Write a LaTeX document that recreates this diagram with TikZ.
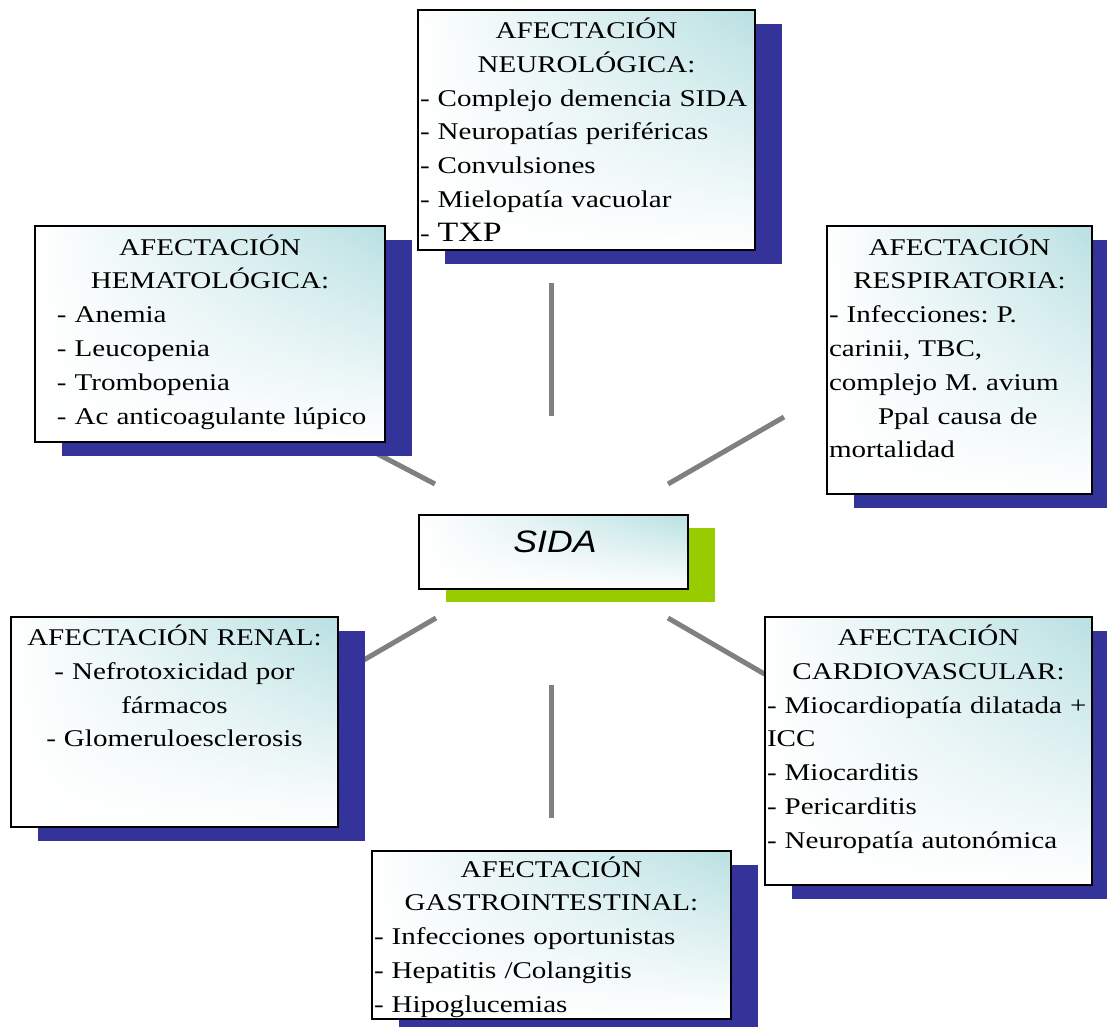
\documentclass[tikz,border=0pt]{standalone}
\usepackage{fontspec}
\setmainfont[FakeStretch=1.21]{Liberation Serif}
\newfontfamily\sidafont[FakeStretch=1.15]{Liberation Sans}
\usetikzlibrary{shadows,shadings}

\definecolor{tealtop}{RGB}{185,224,226}
\definecolor{shadowblue}{RGB}{51,51,153}
\definecolor{limegreen}{RGB}{153,204,0}
\definecolor{linkgray}{RGB}{128,128,128}

\tikzset{
  panel/.style={draw=black, line width=1.9pt, inner sep=0pt, outer sep=0pt,
    anchor=north west, upper right=tealtop, upper left=white,
    lower left=white, lower right=white},
  blueshadow/.style={drop shadow={shadow xshift=27pt, shadow yshift=-14pt,
    fill=shadowblue, opacity=1}},
  greenshadow/.style={drop shadow={shadow xshift=27pt, shadow yshift=-13pt,
    fill=limegreen, opacity=1}},
  paneltext/.style={anchor=base west, inner sep=0pt, outer sep=0pt,
    align=left, font=\fontsize{24}{33.8}\selectfont},
  link/.style={draw=linkgray, line width=5pt},
}

\begin{document}
\begin{tikzpicture}[x=1pt, y=-1pt]
\useasboundingbox (0,0) rectangle (1107,1026);
\clip (0,0) rectangle (1107,1026);

% spokes around the central box (drawn first, so they pass under the panels)
\coordinate (tA) at (551,283);  \coordinate (tB) at (551,416);
\coordinate (bA) at (551,685);  \coordinate (bB) at (551,818);
\coordinate (hA) at (435,484);  \coordinate (hB) at (370,450);
\coordinate (rA) at (668,484);  \coordinate (rB) at (784,417);
\coordinate (kA) at (436,618);  \coordinate (kB) at (350,668);
\coordinate (cA) at (668,618);  \coordinate (cB) at (780,683);
\draw[link] (tA) -- (tB);
\draw[link] (bA) -- (bB);
\draw[link] (hA) -- (hB);
\draw[link] (rA) -- (rB);
\draw[link] (kA) -- (kB);
\draw[link] (cA) -- (cB);

% panels
\node[panel, blueshadow, minimum width=337pt, minimum height=240pt] (neuro) at (418,10) {};
\node[panel, blueshadow, minimum width=350pt, minimum height=216pt] (hemato) at (35,226) {};
\node[panel, blueshadow, minimum width=265pt, minimum height=268pt] (resp) at (827,226) {};
\node[panel, greenshadow, minimum width=269pt, minimum height=74pt] (sida) at (419,515) {};
\node[panel, blueshadow, minimum width=327pt, minimum height=210pt] (renal) at (11,617) {};
\node[panel, blueshadow, minimum width=327pt, minimum height=268pt] (cardio) at (765,617) {};
\node[panel, blueshadow, minimum width=359pt, minimum height=168pt] (gastro) at (372,851) {};

% panel texts
\node[paneltext, text width=333pt] (neurot) at ([xshift=2pt, yshift=-28.5pt]neuro.north west)
  {{\centering AFECTACIÓN\\NEUROLÓGICA:\par}
   -~Complejo~demencia~SIDA\\
   -~Neuropatías~periféricas\\
   -~Convulsiones\\
   -~Mielopatía~vacuolar\\
   -~{\fontsize{28}{33.8}\selectfont TXP}};

\node[paneltext, text width=346pt] (hematot) at ([xshift=2pt, yshift=-29pt]hemato.north west)
  {{\centering AFECTACIÓN\\HEMATOLÓGICA:\par}
   {\leftskip=20pt -~Anemia\\
   -~Leucopenia\\
   -~Trombopenia\\
   -~Ac~anticoagulante~lúpico\par}};

\node[paneltext, text width=261pt] (respt) at ([xshift=2pt, yshift=-29pt]resp.north west)
  {{\centering AFECTACIÓN\\RESPIRATORIA:\par}
   -~Infecciones:~P.\\
   carinii,~TBC,\\
   complejo~M.~avium\\
   \hspace*{49pt}Ppal~causa~de\\
   mortalidad};

\node[anchor=base, inner sep=0pt, font=\sidafont\itshape\fontsize{31}{36}\selectfont]
  (sidat) at (555,552) {SIDA};

\node[paneltext, text width=323pt, align=center] (renalt) at ([xshift=2pt, yshift=-28.5pt]renal.north west)
  {AFECTACIÓN~RENAL:\\
   -~Nefrotoxicidad~por\\
   fármacos\\
   -~Glomeruloesclerosis};

\node[paneltext, text width=323pt] (cardiot) at ([xshift=2pt, yshift=-28.5pt]cardio.north west)
  {{\centering AFECTACIÓN\\CARDIOVASCULAR:\par}
   -~Miocardiopatía~dilatada~+\\
   ICC\\
   -~Miocarditis\\
   -~Pericarditis\\
   -~Neuropatía~autonómica};

\node[paneltext, text width=355pt] (gastrot) at ([xshift=2pt, yshift=-26pt]gastro.north west)
  {{\centering AFECTACIÓN\\GASTROINTESTINAL:\par}
   -~Infecciones~oportunistas\\
   -~Hepatitis~/Colangitis\\
   -~Hipoglucemias};
\end{tikzpicture}
\end{document}
